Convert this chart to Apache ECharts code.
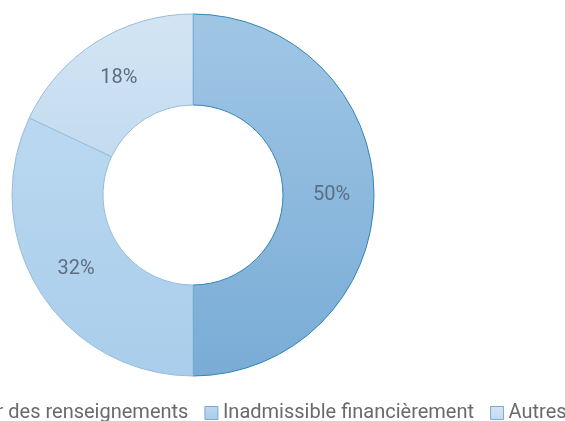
<!DOCTYPE html>
<html><head><meta charset="utf-8">
<script src="https://cdn.jsdelivr.net/npm/echarts@6/dist/echarts.min.js"></script>
<style>html,body{margin:0;padding:0;background:#fff}#c{width:565px;height:421px}</style>
</head><body><div id="c"></div>
<script>
const categories = ["Obtenir des renseignements", "Inadmissible financièrement", "Autres"];
const values = [50, 32, 18];
const topColors = ["#a0c6e5", "#bad8f0", "#d3e5f4"];
const bottomColors = ["#79acd6", "#a9cdeb", "#c3dbf0"];
const borderColors = ["#2f86b4", "#98bcdb", "#98bcdb"];

const chart = echarts.init(document.getElementById('c'));
chart.setOption({
  animation: false,
  legend: {
    data: categories,
    left: -85,
    top: 398,
    width: 800,
    itemWidth: 13,
    itemHeight: 13,
    itemGap: 16,
    icon: 'rect',
    itemStyle: {borderColor: '#7fa9cc', borderWidth: 1},
    textStyle: {color: '#6a6a6a', fontSize: 20, fontFamily: 'Roboto', fontWeight: 400}
  },
  series: [{
    type: 'pie',
    center: [193, 195],
    radius: [90, 181],
    startAngle: 90,
    clockwise: true,
    label: {
      show: true,
      position: 'inside',
      formatter: '{c}%',
      color: '#5d6e80',
      fontSize: 20,
      fontFamily: 'Roboto',
      fontWeight: 400
    },
    labelLine: {show: false},
    data: categories.map((n, i) => ({
      name: n,
      value: values[i],
      itemStyle: {
        color: new echarts.graphic.LinearGradient(0, 0, 0, 1, [
          {offset: 0, color: topColors[i]},
          {offset: 1, color: bottomColors[i]}
        ]),
        borderColor: borderColors[i],
        borderWidth: 1
      }
    }))
  }]
});
</script></body></html>
